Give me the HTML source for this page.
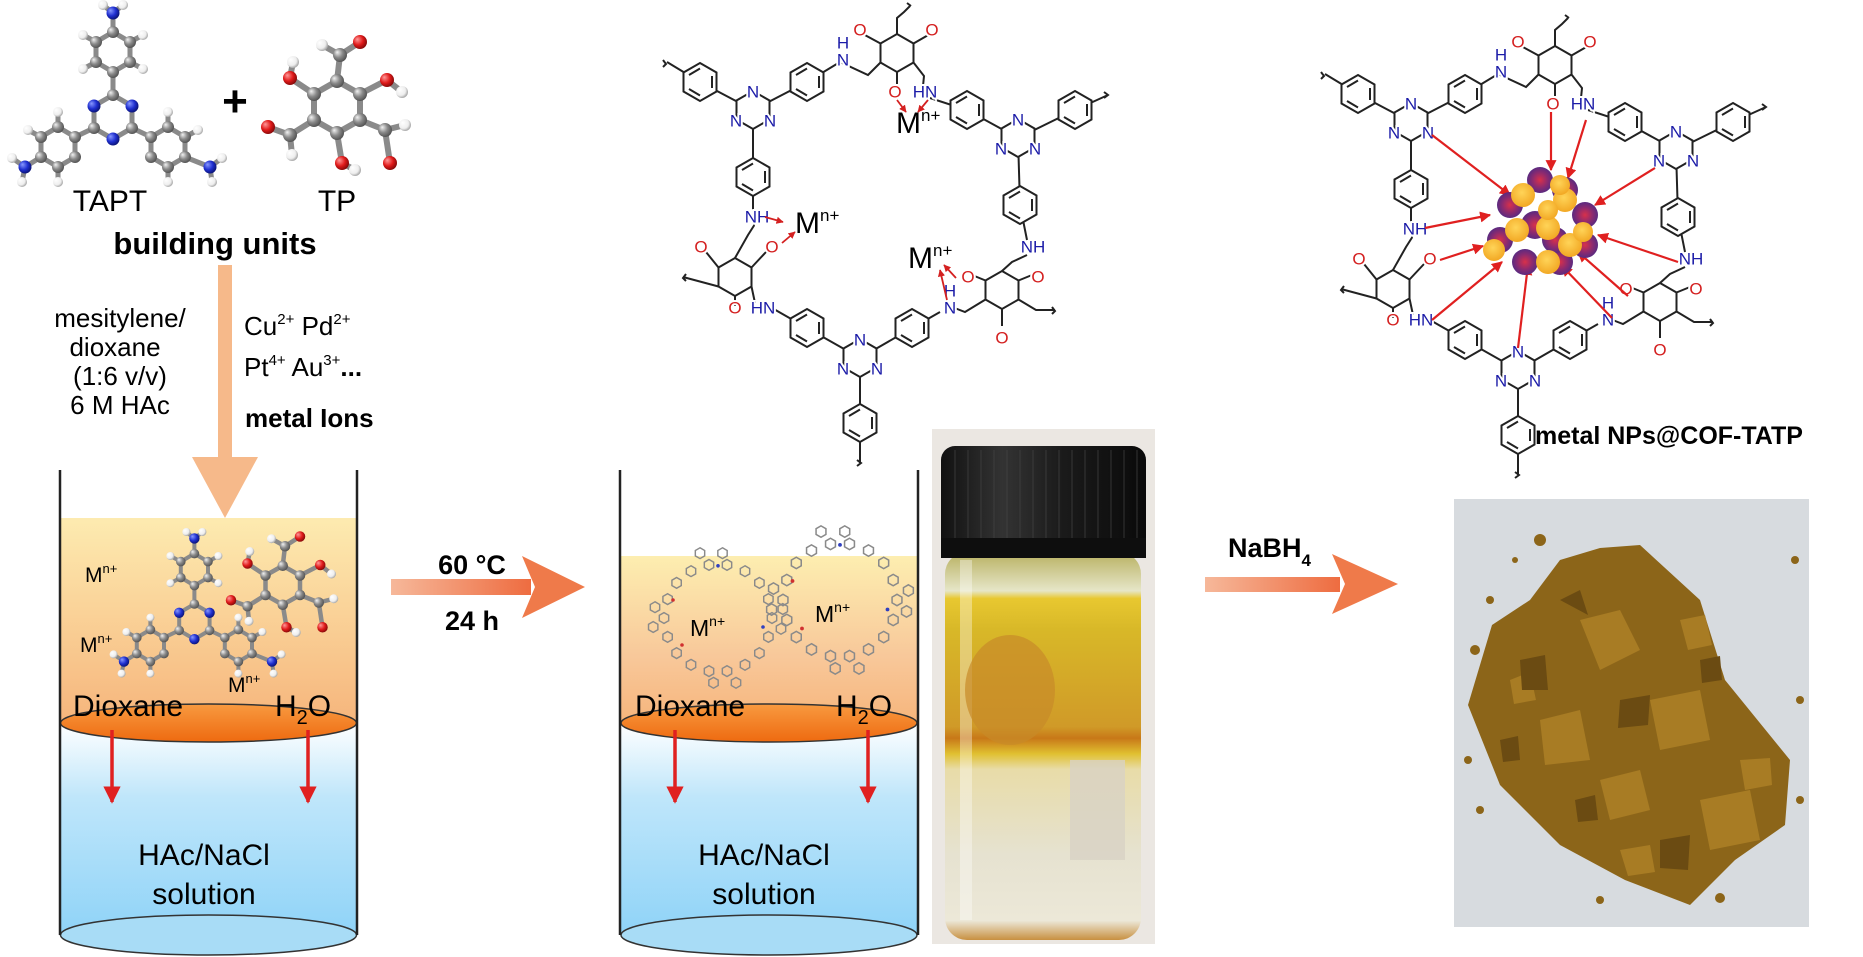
<!DOCTYPE html>
<html><head><meta charset="utf-8"><style>
html,body{margin:0;padding:0;background:#fff;}
svg{display:block;font-family:"Liberation Sans",Arial,sans-serif;}
.lb{font-size:17px;paint-order:stroke;stroke:#fff;stroke-width:4px;text-anchor:middle;dominant-baseline:central;}
.n{fill:#1c1ca8}.o{fill:#d42020}
</style></head><body>
<svg width="1863" height="957" viewBox="0 0 1863 957" xmlns="http://www.w3.org/2000/svg">
<defs>
<radialGradient id="gb" cx=".4" cy=".4" r=".6" fx=".3" fy=".3"><stop offset="0" stop-color="#f2f2f2"/><stop offset=".55" stop-color="#8a8a8a"/><stop offset="1" stop-color="#555"/></radialGradient>
<radialGradient id="bb" cx=".4" cy=".4" r=".6" fx=".3" fy=".3"><stop offset="0" stop-color="#8a9aff"/><stop offset=".6" stop-color="#1f2fd0"/><stop offset="1" stop-color="#0c157a"/></radialGradient>
<radialGradient id="rb" cx=".4" cy=".4" r=".6" fx=".3" fy=".3"><stop offset="0" stop-color="#ff9a9a"/><stop offset=".6" stop-color="#e01a1a"/><stop offset="1" stop-color="#8a0a0a"/></radialGradient>
<radialGradient id="wb" cx=".4" cy=".4" r=".6" fx=".3" fy=".3"><stop offset="0" stop-color="#fff"/><stop offset=".7" stop-color="#eee"/><stop offset="1" stop-color="#aaa"/></radialGradient>
<radialGradient id="pu" cx=".5" cy=".5" r=".5"><stop offset="0" stop-color="#d8304a"/><stop offset=".6" stop-color="#8a2a70"/><stop offset="1" stop-color="#5a2a80"/></radialGradient>
<radialGradient id="ye" cx=".45" cy=".4" r=".6"><stop offset="0" stop-color="#ffd458"/><stop offset="1" stop-color="#f2a824"/></radialGradient>
<linearGradient id="org" x1="0" y1="0" x2="0" y2="1"><stop offset="0" stop-color="#fdebb0"/><stop offset="1" stop-color="#f6b57c"/></linearGradient>
<linearGradient id="org2" x1="0" y1="0" x2="0" y2="1"><stop offset="0" stop-color="#fdeeb0"/><stop offset=".6" stop-color="#f8c89a"/><stop offset="1" stop-color="#f6b57c"/></linearGradient>
<linearGradient id="blu" x1="0" y1="0" x2="0" y2="1"><stop offset="0" stop-color="#ffffff"/><stop offset=".35" stop-color="#bfe6fa"/><stop offset="1" stop-color="#8fd3f8"/></linearGradient>
<linearGradient id="ell" x1="0" y1="0" x2="0" y2="1"><stop offset="0" stop-color="#f89a40"/><stop offset="1" stop-color="#ee6a10"/></linearGradient>
<linearGradient id="arr" x1="0" y1="0" x2="1" y2="0"><stop offset="0" stop-color="#f6b89a"/><stop offset="1" stop-color="#ee6c40"/></linearGradient>
<linearGradient id="vial" x1="0" y1="0" x2="0" y2="1">
<stop offset="0" stop-color="#b8b060"/><stop offset=".1" stop-color="#e6e6c8"/><stop offset=".12" stop-color="#e8c830"/><stop offset=".2" stop-color="#d8b828"/><stop offset=".45" stop-color="#d09a28"/><stop offset=".48" stop-color="#c87818"/><stop offset=".52" stop-color="#e0c030"/><stop offset=".56" stop-color="#e8dca8"/><stop offset=".78" stop-color="#e6e2d0"/><stop offset=".95" stop-color="#ece8d8"/><stop offset="1" stop-color="#c89040"/></linearGradient>
<linearGradient id="capg" x1="0" y1="0" x2="1" y2="0"><stop offset="0" stop-color="#111"/><stop offset=".3" stop-color="#333"/><stop offset=".6" stop-color="#1a1a1a"/><stop offset="1" stop-color="#0a0a0a"/></linearGradient>
<marker id="ah" viewBox="0 0 10 10" refX="9" refY="5" markerWidth="5" markerHeight="5" orient="auto"><path d="M0,0L10,5L0,10z" fill="#e02020"/></marker>
<marker id="ahs" viewBox="0 0 10 10" refX="9" refY="5" markerWidth="4" markerHeight="4" orient="auto"><path d="M0,0L10,5L0,10z" fill="#d42020"/></marker>
<g id="ph"><path d="M0,-19L16.5,-9.5L16.5,9.5L0,19L-16.5,9.5L-16.5,-9.5Z" fill="#fff" stroke="#222" stroke-width="2"/><path d="M12,-6V6M0,13.5L-11,7M-11,-7L0,-13.5" stroke="#222" stroke-width="2" fill="none"/></g>
<g id="hx"><path d="M0,-19L16.5,-9.5L16.5,9.5L0,19L-16.5,9.5L-16.5,-9.5Z" fill="#fff" stroke="#222" stroke-width="2"/></g>
<g id="sh"><path d="M0,-6L5.2,-3L5.2,3L0,6L-5.2,3L-5.2,-3Z" fill="none" stroke="#8a8a8a" stroke-width="1.6"/></g>
<g id="ring">
<use href="#sh" x="60" y="0"/><use href="#sh" x="56" y="21"/><use href="#sh" x="46" y="39"/><use href="#sh" x="30" y="52"/><use href="#sh" x="10" y="59"/><use href="#sh" x="-10" y="59"/><use href="#sh" x="-30" y="52"/><use href="#sh" x="-46" y="39"/><use href="#sh" x="-56" y="21"/><use href="#sh" x="-60" y="0"/><use href="#sh" x="-56" y="-21"/><use href="#sh" x="-46" y="-39"/><use href="#sh" x="-30" y="-52"/><use href="#sh" x="-10" y="-59"/><use href="#sh" x="10" y="-59"/><use href="#sh" x="30" y="-52"/><use href="#sh" x="46" y="-39"/><use href="#sh" x="56" y="-21"/>
<use href="#sh" x="72" y="-10"/><use href="#sh" x="-72" y="10"/><use href="#sh" x="20" y="72"/><use href="#sh" x="-20" y="-72"/>
<use href="#sh" x="70" y="12"/><use href="#sh" x="-70" y="-12"/><use href="#sh" x="-5" y="72"/><use href="#sh" x="5" y="-72"/>
<circle cx="50" cy="10" r="2" fill="#3040c0"/><circle cx="-40" cy="30" r="2" fill="#d03030"/><circle cx="0" cy="-58" r="2" fill="#3040c0"/><circle cx="-50" cy="-20" r="2" fill="#d03030"/>
</g>
<g id="tapt">
<g stroke="#8a8a8a" stroke-width="5" fill="none">
<path d="M113,95L132,106L132,128L113,139L94,128L94,106Z"/>
<path d="M113,32L130,42L130,62L113,72L96,62L96,42Z"/>
<path d="M58,127L75,137L75,157L58,167L41,157L41,137Z"/>
<path d="M168,127L185,137L185,157L168,167L151,157L151,137Z"/>
<path d="M113,72V95M94,128L75,137M132,128L151,137M113,32V13M41,157L25,167M185,157L210,167"/>
<path d="M96,42L83,35M130,42L143,35M96,62L83,69M130,62L143,69M58,127L58,112M41,137L28,130M58,167V182M168,127V112M185,137L198,130M168,167V182M25,167L12,158M25,167L22,182M210,167L222,158M210,167L212,182M113,13L103,5M113,13L123,5"/>
</g>
<g fill="url(#wb)"><circle cx="83" cy="35" r="5"/><circle cx="143" cy="35" r="5"/><circle cx="83" cy="69" r="5"/><circle cx="143" cy="69" r="5"/><circle cx="58" cy="112" r="5"/><circle cx="28" cy="130" r="5"/><circle cx="58" cy="182" r="5"/><circle cx="168" cy="112" r="5"/><circle cx="198" cy="130" r="5"/><circle cx="168" cy="182" r="5"/><circle cx="12" cy="158" r="5"/><circle cx="22" cy="182" r="5"/><circle cx="222" cy="158" r="5"/><circle cx="212" cy="182" r="5"/><circle cx="103" cy="5" r="5"/><circle cx="123" cy="5" r="5"/></g>
<g fill="url(#gb)"><circle cx="113" cy="95" r="6"/><circle cx="132" cy="128" r="6"/><circle cx="94" cy="128" r="6"/><circle cx="113" cy="32" r="6"/><circle cx="130" cy="42" r="6"/><circle cx="130" cy="62" r="6"/><circle cx="113" cy="72" r="6"/><circle cx="96" cy="62" r="6"/><circle cx="96" cy="42" r="6"/><circle cx="58" cy="127" r="6"/><circle cx="75" cy="137" r="6"/><circle cx="75" cy="157" r="6"/><circle cx="58" cy="167" r="6"/><circle cx="41" cy="157" r="6"/><circle cx="41" cy="137" r="6"/><circle cx="168" cy="127" r="6"/><circle cx="185" cy="137" r="6"/><circle cx="185" cy="157" r="6"/><circle cx="168" cy="167" r="6"/><circle cx="151" cy="157" r="6"/><circle cx="151" cy="137" r="6"/></g>
<g fill="url(#bb)"><circle cx="132" cy="106" r="6.5"/><circle cx="113" cy="139" r="6.5"/><circle cx="94" cy="106" r="6.5"/><circle cx="113" cy="13" r="6.5"/><circle cx="25" cy="167" r="6.5"/><circle cx="210" cy="167" r="6.5"/></g>
</g>
<g id="tp">
<g stroke="#8a8a8a" stroke-width="6" fill="none">
<path d="M337,81L360,94L360,120L337,133L314,120L314,94Z"/>
<path d="M337,81L340,55L360,42M340,55L322,45M314,94L290,78L293,62M360,94L387,80L402,92M314,120L290,135L268,127M290,135L292,155M360,120L385,130L390,163M385,130L405,125M337,133L342,163L355,170"/>
</g>
<g fill="url(#wb)"><circle cx="322" cy="45" r="6"/><circle cx="293" cy="62" r="6"/><circle cx="402" cy="92" r="6"/><circle cx="292" cy="155" r="6"/><circle cx="405" cy="125" r="6"/><circle cx="355" cy="170" r="6"/></g>
<g fill="url(#gb)"><circle cx="337" cy="81" r="7"/><circle cx="360" cy="94" r="7"/><circle cx="360" cy="120" r="7"/><circle cx="337" cy="133" r="7"/><circle cx="314" cy="120" r="7"/><circle cx="314" cy="94" r="7"/><circle cx="340" cy="55" r="7"/><circle cx="290" cy="135" r="7"/><circle cx="385" cy="130" r="7"/></g>
<g fill="url(#rb)"><circle cx="360" cy="42" r="7"/><circle cx="290" cy="78" r="7"/><circle cx="387" cy="80" r="7"/><circle cx="268" cy="127" r="7"/><circle cx="390" cy="163" r="7"/><circle cx="342" cy="163" r="7"/></g>
</g>
<g id="cof">
<g stroke="#222" stroke-width="2" fill="none">
<path d="M667,62L700,82L753,110L807,82L840,62L868,75L880.5,62.5M880.5,43.5L863,34M913.5,43.5L930,34M897,72L897,84M913.5,62.5L924,76L923,86"/>
<path d="M897,34V18L904,12L910,6"/>
<path d="M930,98L967,110L1018,138L1075,110L1108,95M1018,138L1020,205L1027,240M1027,255L1012,262L1002,271M1018.5,280.5L1032,275M985.5,280.5L972,275M1002,309V326M1018.5,299.5L1036,310L1055,310M985.5,299.5L965,312L952,307"/>
<path d="M940,312L912,328L860,358L807,328L772,308M860,358V423V463M755,303L751.5,286.5M718.5,267.5L706,252M751.5,267.5L766,252M735,296V306M718.5,286.5L683,277M735,258L748,235L755,224M753,210L753,177L753,110"/>
<path d="M663,60l3,4l-3,3M1104,92l4,3l-4,3M857,460l4,3l-4,3M686,274l-3,4l3,3M1052,307l3,4l-3,3M907,3l4,3"/>
</g>
<use href="#ph" x="700" y="82"/><use href="#hx" x="753" y="110"/><use href="#ph" x="807" y="82"/>
<use href="#hx" x="897" y="53"/><use href="#ph" x="967" y="110"/><use href="#hx" x="1018" y="138"/>
<use href="#ph" x="1075" y="110"/><use href="#ph" x="1020" y="205"/><use href="#hx" x="1002" y="290"/>
<use href="#ph" x="912" y="328"/><use href="#hx" x="860" y="358"/><use href="#ph" x="807" y="328"/>
<use href="#ph" x="860" y="423"/><use href="#hx" x="735" y="277"/><use href="#ph" x="753" y="177"/>
<g class="lb n">
<text x="753" y="92">N</text><text x="736" y="121">N</text><text x="770" y="121">N</text>
<text x="1018" y="120">N</text><text x="1001" y="149">N</text><text x="1035" y="149">N</text>
<text x="860" y="340">N</text><text x="843" y="369">N</text><text x="877" y="369">N</text>
<text x="843" y="60">N</text><text x="843" y="43">H</text>
<text x="925" y="92">HN</text>
<text x="1033" y="247">NH</text>
<text x="950" y="308">N</text><text x="950" y="291">H</text>
<text x="763" y="308">HN</text>
<text x="757" y="217">NH</text>
</g>
<g class="lb o">
<text x="860" y="30">O</text><text x="932" y="30">O</text><text x="895" y="92">O</text>
<text x="1038" y="277">O</text><text x="968" y="277">O</text><text x="1002" y="338">O</text>
<text x="701" y="247">O</text><text x="772" y="247">O</text><text x="735" y="308">O</text>
</g>
</g>
</defs>

<use href="#tapt"/>
<use href="#tp"/>
<text x="235" y="116" font-size="44" font-weight="bold" text-anchor="middle">+</text>
<text x="110" y="211" font-size="30" text-anchor="middle">TAPT</text>
<text x="337" y="211" font-size="30" text-anchor="middle">TP</text>
<text x="215" y="254" font-size="31" font-weight="bold" text-anchor="middle">building units</text>

<rect x="218" y="265" width="14" height="195" fill="#f6b98a"/>
<polygon points="192,457 258,457 225,518" fill="#f6b98a"/>

<g font-size="26" text-anchor="middle">
<text x="120" y="327">mesitylene/</text>
<text x="115" y="356">dioxane</text>
<text x="120" y="385">(1:6 v/v)</text>
<text x="120" y="414">6 M HAc</text>
</g>
<g font-size="26">
<text x="244" y="335">Cu<tspan font-size="15" dy="-11">2+</tspan><tspan dy="11"> Pd</tspan><tspan font-size="15" dy="-11">2+</tspan></text>
<text x="244" y="376">Pt<tspan font-size="15" dy="-11">4+</tspan><tspan dy="11">  Au</tspan><tspan font-size="15" dy="-11">3+</tspan><tspan dy="11" font-weight="bold">...</tspan></text>
<text x="245" y="427" font-weight="bold">metal Ions</text>
</g>

<rect x="60" y="518" width="297" height="205" fill="url(#org)"/>
<rect x="60" y="723" width="297" height="212" fill="url(#blu)"/>
<ellipse cx="208.5" cy="935" rx="148" ry="20" fill="#a8dcf6" stroke="#333" stroke-width="1.5"/>
<ellipse cx="208.5" cy="723" rx="148" ry="19" fill="url(#ell)" stroke="#333" stroke-width="1.5"/>
<path d="M60,470V935M357,470V935" stroke="#222" stroke-width="2.5"/>
<use href="#tapt" transform="translate(104,528) scale(0.8)"/>
<use href="#tp" transform="translate(30,505) scale(0.75)"/>
<g font-size="21"><text x="85" y="582">M<tspan font-size="13" dy="-9">n+</tspan></text><text x="80" y="652">M<tspan font-size="13" dy="-9">n+</tspan></text><text x="228" y="692">M<tspan font-size="13" dy="-9">n+</tspan></text></g>
<text x="73" y="716" font-size="30">Dioxane</text>
<text x="275" y="716" font-size="30">H<tspan font-size="20" dy="8">2</tspan><tspan dy="-8">O</tspan></text>
<path d="M112,730V802" stroke="#e02020" stroke-width="3.5" marker-end="url(#ah)"/>
<path d="M308,730V802" stroke="#e02020" stroke-width="3.5" marker-end="url(#ah)"/>
<text x="204" y="865" font-size="30" text-anchor="middle">HAc/NaCl</text>
<text x="204" y="904" font-size="30" text-anchor="middle">solution</text>

<rect x="391" y="579" width="140" height="16" fill="url(#arr)"/>
<polygon points="522,556 585,587 522,618 535,587" fill="#ef7a4a"/>
<text x="472" y="574" font-size="27" font-weight="bold" text-anchor="middle">60 °C</text>
<text x="472" y="630" font-size="27" font-weight="bold" text-anchor="middle">24 h</text>

<rect x="620" y="556" width="298" height="167" fill="url(#org2)"/>
<rect x="620" y="723" width="298" height="212" fill="url(#blu)"/>
<ellipse cx="769" cy="935" rx="148" ry="20" fill="#a8dcf6" stroke="#333" stroke-width="1.5"/>
<ellipse cx="769" cy="723" rx="148" ry="19" fill="url(#ell)" stroke="#333" stroke-width="1.5"/>
<path d="M620,470V935M918,470V935" stroke="#222" stroke-width="2.5"/>
<use href="#ring" transform="translate(718,618) scale(0.9)"/>
<use href="#ring" transform="translate(840,600) scale(0.95)"/>
<g font-size="23"><text x="690" y="636">M<tspan font-size="14" dy="-10">n+</tspan></text><text x="815" y="622">M<tspan font-size="14" dy="-10">n+</tspan></text></g>
<text x="635" y="716" font-size="30">Dioxane</text>
<text x="836" y="716" font-size="30">H<tspan font-size="20" dy="8">2</tspan><tspan dy="-8">O</tspan></text>
<path d="M675,730V802" stroke="#e02020" stroke-width="3.5" marker-end="url(#ah)"/>
<path d="M868,730V802" stroke="#e02020" stroke-width="3.5" marker-end="url(#ah)"/>
<text x="764" y="865" font-size="30" text-anchor="middle">HAc/NaCl</text>
<text x="764" y="904" font-size="30" text-anchor="middle">solution</text>

<use href="#cof"/>
<g font-size="30"><text x="896" y="133">M<tspan font-size="17" dy="-12">n+</tspan></text><text x="795" y="233">M<tspan font-size="17" dy="-12">n+</tspan></text><text x="908" y="268">M<tspan font-size="17" dy="-12">n+</tspan></text></g>
<g stroke="#d42020" stroke-width="1.8" fill="none" marker-end="url(#ahs)">
<path d="M897,100L906,112"/><path d="M928,100L918,112"/><path d="M765,217L783,222"/><path d="M782,243L795,232"/><path d="M956,278L944,265"/><path d="M947,300L940,270"/>
</g>

<rect x="932" y="429" width="223" height="515" fill="#ebe7e2"/>
<rect x="945" y="552" width="196" height="388" rx="22" fill="url(#vial)"/>
<rect x="960" y="560" width="12" height="360" fill="#fff" opacity=".35"/>
<rect x="1070" y="760" width="55" height="100" fill="#d8d2c4" opacity=".8"/>
<ellipse cx="1010" cy="690" rx="45" ry="55" fill="#c88a28" opacity=".7"/>
<rect x="941" y="446" width="205" height="112" rx="14" fill="url(#capg)"/>
<g stroke="#444" stroke-width="1.2" opacity=".6"><path d="M955,450V555M968,450V555M981,450V555M994,450V555M1007,450V555M1020,450V555M1033,450V555M1046,450V555M1059,450V555M1072,450V555M1085,450V555M1098,450V555M1111,450V555M1124,450V555M1137,450V555"/></g>
<rect x="941" y="538" width="205" height="20" fill="#0e0e0e"/>

<rect x="1205" y="577" width="135" height="15" fill="url(#arr)"/>
<polygon points="1332,554 1398,584 1332,614 1345,584" fill="#ef7a4a"/>
<text x="1228" y="557" font-size="27" font-weight="bold">NaBH<tspan font-size="17" dy="9">4</tspan></text>

<rect x="1454" y="499" width="355" height="428" fill="#d7dbdf"/>
<polygon points="1560,560 1600,548 1640,545 1700,600 1725,680 1790,760 1785,825 1735,860 1690,905 1625,880 1560,845 1500,785 1468,705 1492,625 1530,600" fill="#8c6519"/>
<g fill="#a87c24"><polygon points="1580,620 1620,610 1640,650 1600,670"/><polygon points="1650,700 1700,690 1710,740 1660,750"/><polygon points="1540,720 1580,710 1590,760 1545,765"/><polygon points="1700,800 1750,790 1760,840 1710,850"/><polygon points="1600,780 1640,770 1650,810 1610,820"/><polygon points="1680,620 1705,615 1712,645 1688,650"/><polygon points="1510,680 1530,672 1536,700 1514,704"/><polygon points="1620,850 1650,845 1655,872 1628,876"/><polygon points="1740,760 1770,758 1772,785 1745,790"/></g>
<g fill="#6b4b12"><polygon points="1620,700 1650,695 1648,725 1618,728"/><polygon points="1520,660 1545,655 1548,690 1522,690"/><polygon points="1660,840 1690,835 1688,870 1660,868"/><polygon points="1560,600 1580,590 1588,615"/><polygon points="1575,800 1595,795 1598,820 1578,822"/><polygon points="1700,660 1720,656 1722,680 1702,683"/><polygon points="1500,740 1518,736 1520,760 1503,762"/></g>
<g fill="#8c6519"><circle cx="1540" cy="540" r="6"/><circle cx="1475" cy="650" r="5"/><circle cx="1468" cy="760" r="4"/><circle cx="1800" cy="700" r="4"/><circle cx="1795" cy="560" r="4"/><circle cx="1720" cy="898" r="5"/><circle cx="1490" cy="600" r="4"/><circle cx="1480" cy="810" r="4"/><circle cx="1515" cy="560" r="3"/><circle cx="1800" cy="800" r="4"/><circle cx="1600" cy="900" r="4"/></g>

<use href="#cof" transform="translate(658,12)"/>
<g stroke="#e02020" stroke-width="2.2" fill="none" marker-end="url(#ah)">
<path d="M1432,135L1510,195"/><path d="M1551,112L1551,170"/><path d="M1586,120L1568,178"/><path d="M1655,168L1595,205"/><path d="M1678,262L1598,235"/><path d="M1628,296L1578,252"/><path d="M1612,318L1562,266"/><path d="M1518,348L1528,265"/><path d="M1432,320L1502,262"/><path d="M1440,260L1483,246"/><path d="M1425,228L1490,215"/>
</g>
<g>
<circle cx="1510" cy="205" r="13" fill="url(#pu)"/><circle cx="1540" cy="180" r="13" fill="url(#pu)"/><circle cx="1565" cy="190" r="13" fill="url(#pu)"/><circle cx="1585" cy="215" r="13" fill="url(#pu)"/><circle cx="1585" cy="245" r="13" fill="url(#pu)"/><circle cx="1560" cy="262" r="13" fill="url(#pu)"/><circle cx="1525" cy="262" r="13" fill="url(#pu)"/><circle cx="1500" cy="240" r="13" fill="url(#pu)"/><circle cx="1535" cy="225" r="14" fill="url(#pu)"/><circle cx="1555" cy="240" r="13" fill="url(#pu)"/>
<circle cx="1523" cy="195" r="12" fill="url(#ye)"/><circle cx="1565" cy="200" r="12" fill="url(#ye)"/><circle cx="1517" cy="230" r="12" fill="url(#ye)"/><circle cx="1548" cy="228" r="12" fill="url(#ye)"/><circle cx="1570" cy="245" r="12" fill="url(#ye)"/><circle cx="1494" cy="250" r="11" fill="url(#ye)"/><circle cx="1548" cy="262" r="12" fill="url(#ye)"/><circle cx="1583" cy="232" r="10" fill="url(#ye)"/><circle cx="1560" cy="185" r="10" fill="url(#ye)"/><circle cx="1548" cy="210" r="10" fill="url(#ye)"/>
</g>
<text x="1535" y="444" font-size="25" font-weight="bold">metal NPs@COF-TATP</text>
</svg>
</body></html>
